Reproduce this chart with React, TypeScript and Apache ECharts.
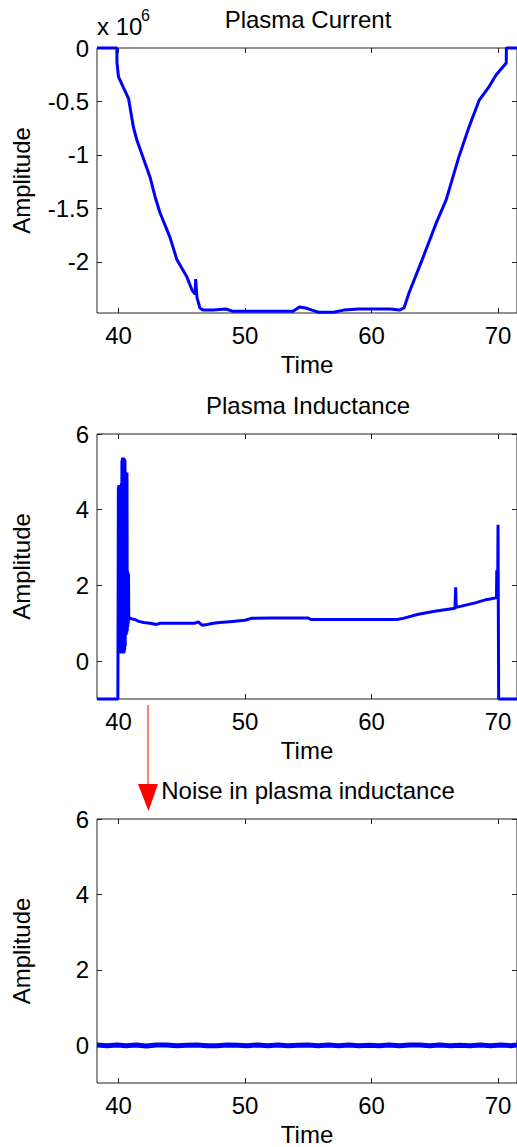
import React, { useEffect, useRef } from "react";
import * as echarts from "echarts";

// ---------- data ----------
const xTicks = [40, 50, 60, 70];
const currentTicks = [0, -0.5, -1, -1.5, -2];
const inductanceTicks = [0, 2, 4, 6];

// Plasma current (in units of 1e6)
const currentTime = [38.3, 39.87, 39.88, 40.0, 40.39, 40.79, 41.18, 41.45, 42.5, 42.89, 43.28, 44.07, 44.62, 45.41, 45.8, 46.05, 46.1, 46.2, 46.43, 46.7, 47.5, 48.5, 49.0, 50.0, 52.0, 53.8, 54.3, 54.8, 55.3, 55.8, 57.0, 57.8, 59.0, 60.5, 61.5, 62.2, 62.57, 62.96, 64.0, 65.1, 65.9, 66.9, 67.7, 68.5, 69.3, 69.86, 70.65, 70.66, 71.5];
const currentValues = [0, 0, -0.14, -0.27, -0.37, -0.47, -0.74, -0.86, -1.21, -1.39, -1.54, -1.77, -1.98, -2.14, -2.26, -2.3, -2.16, -2.33, -2.43, -2.45, -2.45, -2.44, -2.46, -2.46, -2.46, -2.46, -2.42, -2.43, -2.45, -2.47, -2.47, -2.45, -2.44, -2.44, -2.44, -2.45, -2.43, -2.29, -1.98, -1.64, -1.42, -1.02, -0.74, -0.49, -0.36, -0.25, -0.14, 0, 0];

// Plasma inductance
const inductanceTime = [
  38.3, 39.95, 39.99, 40.01, 40.03, 40.05, 40.07, 40.09, 40.11, 40.13, 40.15, 40.17, 40.19, 40.21, 40.23, 40.25,
  40.27, 40.29, 40.31, 40.33, 40.35, 40.37, 40.39, 40.41, 40.43, 40.45, 40.47, 40.49, 40.51, 40.53, 40.55, 40.57,
  40.59, 40.61, 40.63, 40.65, 40.67, 40.69, 40.71, 40.73, 40.75, 40.77, 40.79, 40.81, 40.88, 41.0, 41.3, 41.6,
  42.0, 42.5, 43.0, 43.3, 44.0, 45.0, 46.0, 46.3, 46.6, 47.0, 47.5, 48.0, 49.0, 50.0, 50.5, 52.0, 55.0, 55.2, 60.0,
  62.0, 62.5, 63.7, 65.0, 66.6, 66.65, 66.7, 68.2, 69.0, 69.5, 69.88, 69.9, 69.93, 69.97, 70.0, 70.05, 71.5,
];
const inductanceValues = [
  -1, -1, 4.6, 0.2, 4.65, 0.25, 4.6, 0.2, 4.65, 0.3, 4.6, 0.2, 4.65, 0.25, 4.7, 0.2,
  5.3, 0.25, 5.38, 0.2, 5.35, 0.3, 5.38, 0.2, 5.3, 0.25, 5.35, 0.3, 5.3, 0.4, 5.0, 0.7,
  4.98, 0.7, 4.95, 0.75, 4.98, 0.8, 2.38, 0.9, 2.35, 1.0, 2.3, 1.1, 1.15, 1.12, 1.1, 1.05,
  1.02, 1.0, 0.97, 1.0, 1.0, 1.0, 1.0, 1.04, 0.95, 0.97, 1.0, 1.02, 1.05, 1.08, 1.13, 1.14, 1.14, 1.1, 1.1,
  1.1, 1.13, 1.24, 1.32, 1.4, 1.95, 1.42, 1.54, 1.62, 1.65, 1.68, 2.4, 1.7, 1.68, 3.6, -1, -1,
];

// Noise in plasma inductance
const noiseTime = [38.3, 39.1, 39.9, 40.6, 41.4, 42.2, 43.0, 43.8, 44.6, 45.4, 46.2, 47.0, 47.8, 48.6, 49.4, 50.2, 51.0, 51.8, 52.6, 53.4, 54.2, 55.0, 55.8, 56.6, 57.4, 58.2, 59.0, 59.8, 60.6, 61.4, 62.2, 63.0, 63.8, 64.6, 65.4, 66.2, 67.0, 67.8, 68.6, 69.4, 70.2, 71.0, 71.5];
const noiseValues = [0.01, -0.01, 0.01, -0.01, 0.01, -0.02, 0.01, 0.01, -0.01, 0.0, 0.01, -0.01, -0.01, 0.01, 0.0, -0.01, 0.01, -0.01, 0.01, -0.01, 0.0, 0.01, -0.01, 0.01, -0.01, 0.01, -0.01, 0.0, -0.01, 0.01, -0.01, 0.01, 0.01, -0.01, 0.01, -0.01, 0.0, -0.01, 0.01, -0.01, 0.01, -0.01, 0.01];

const titles = ["Plasma Current", "Plasma Inductance", "Noise in plasma inductance"];

// ---------- layout ----------
const FONT = '"Liberation Sans", Arial, Helvetica, sans-serif';
const X_MIN = 38.3;
const X_MAX = 71.5;
const GRID_LEFT = 97;
const GRID_WIDTH = 422;
const GRID_HEIGHT = 265;
const GRID_TOPS = [48, 434, 819];
const TITLE_Y = [19, 405, 790];
const AXIS_COLOR = "#222";
const LINE_COLOR = "#0000ff";

const zip = (xs: number[], ys: number[]) => xs.map((x, i) => [x, ys[i]]);

export default function App() {
  const ref = useRef<HTMLDivElement>(null);

  useEffect(() => {
    if (!ref.current) return;
    const chart = echarts.init(ref.current, null, { renderer: "svg" });

    const yRanges = [
      { min: -2.477, max: 0, ticks: currentTicks },
      { min: -1, max: 6, ticks: inductanceTicks },
      { min: -1, max: 6, ticks: inductanceTicks },
    ];

    const grids = GRID_TOPS.map((top) => ({
      left: GRID_LEFT,
      top,
      width: GRID_WIDTH,
      height: GRID_HEIGHT,
      show: true,
      borderColor: AXIS_COLOR,
      borderWidth: 1,
      backgroundColor: "transparent",
    }));

    const xAxes: any[] = [];
    const yAxes: any[] = [];
    for (let i = 0; i < 3; i++) {
      xAxes.push({
        type: "value",
        gridIndex: i,
        min: X_MIN,
        max: X_MAX,
        position: "bottom",
        axisLine: { show: false, onZero: false },
        splitLine: { show: false },
        axisTick: { show: true, inside: true, length: 5, customValues: xTicks, lineStyle: { color: AXIS_COLOR } },
        axisLabel: { customValues: xTicks, fontSize: 24, color: "#000", margin: 10, fontFamily: FONT },
        name: "Time",
        nameLocation: "middle",
        nameGap: 39,
        nameTextStyle: { fontSize: 24, color: "#000", fontFamily: FONT },
      });
      yAxes.push({
        type: "value",
        gridIndex: i,
        min: yRanges[i].min,
        max: yRanges[i].max,
        position: "left",
        axisLine: { show: false, onZero: false },
        splitLine: { show: false },
        axisTick: { show: true, inside: true, length: 5, customValues: yRanges[i].ticks, lineStyle: { color: AXIS_COLOR } },
        axisLabel: {
          customValues: yRanges[i].ticks,
          fontSize: 24,
          color: "#000",
          margin: 8,
          fontFamily: FONT,
          formatter: (v: number) => String(v),
        },
        name: "Amplitude",
        nameLocation: "middle",
        nameGap: 64,
        nameTextStyle: { fontSize: 24, color: "#000", fontFamily: FONT },
      });
    }
    for (let i = 0; i < 3; i++) {
      xAxes.push({
        type: "value",
        gridIndex: i,
        min: X_MIN,
        max: X_MAX,
        position: "top",
        axisLine: { show: false, onZero: false },
        splitLine: { show: false },
        axisTick: { show: true, inside: true, length: 5, customValues: xTicks, lineStyle: { color: AXIS_COLOR } },
        axisLabel: { show: false },
      });
      yAxes.push({
        type: "value",
        gridIndex: i,
        min: yRanges[i].min,
        max: yRanges[i].max,
        position: "right",
        axisLine: { show: false, onZero: false },
        splitLine: { show: false },
        axisTick: { show: true, inside: true, length: 5, customValues: yRanges[i].ticks, lineStyle: { color: AXIS_COLOR } },
        axisLabel: { show: false },
      });
    }

    const seriesData = [
      zip(currentTime, currentValues),
      zip(inductanceTime, inductanceValues),
      zip(noiseTime, noiseValues),
    ];
    const widths = [3, 3, 5];

    const series = seriesData.map((data, i) => ({
      type: "line",
      xAxisIndex: i,
      yAxisIndex: i,
      data,
      showSymbol: false,
      symbol: "none",
      clip: false,
      silent: true,
      lineStyle: { color: LINE_COLOR, width: widths[i] },
      itemStyle: { color: LINE_COLOR },
    }));

    const titleGraphics = titles.map((t, i) => ({
      type: "text",
      x: GRID_LEFT + GRID_WIDTH / 2,
      y: TITLE_Y[i],
      style: {
        text: t,
        fontSize: 24,
        fontFamily: FONT,
        fill: "#000",
        align: "center",
        verticalAlign: "middle",
      },
    }));

    chart.setOption({
      animation: false,
      backgroundColor: "#fff",
      grid: grids,
      xAxis: xAxes,
      yAxis: yAxes,
      series,
      graphic: [
        ...titleGraphics,
        {
          type: "text",
          x: 97,
          y: 26,
          style: { text: "x 10", fontSize: 24, fontFamily: FONT, fill: "#000", align: "left", verticalAlign: "middle" },
        },
        {
          type: "text",
          x: 141,
          y: 15,
          style: { text: "6", fontSize: 16, fontFamily: FONT, fill: "#000", align: "left", verticalAlign: "middle" },
        },
        {
          type: "line",
          shape: { x1: 148, y1: 705, x2: 148, y2: 786 },
          style: { stroke: "#ff0000", lineWidth: 1 },
        },
        {
          type: "polygon",
          shape: { points: [[138, 784], [158, 784], [148.5, 811]] },
          style: { fill: "#ff0000" },
        },
      ],
    });

    return () => chart.dispose();
  }, []);

  return (
    <div
      ref={ref}
      style={{ position: "absolute", left: 0, top: 0, width: 517, height: 1147, background: "#fff" }}
    />
  );
}
